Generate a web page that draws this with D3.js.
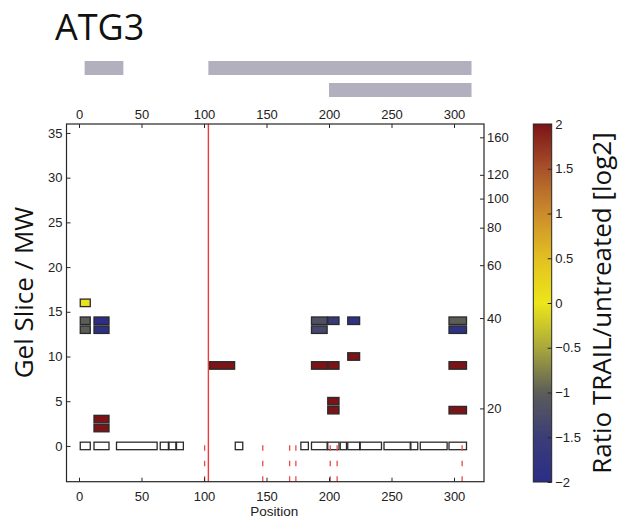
<!DOCTYPE html>
<html>
<head>
<meta charset="utf-8">
<script src="https://cdn.jsdelivr.net/npm/d3@7"></script>
<style>
  body { margin: 0; background: #fff; }
  svg text { fill: #222; }
</style>
</head>
<body>
<svg id="chart" width="619" height="523"></svg>
<script>
// ---- data ----
const proteinName = "ATG3";

// coverage bars above the map (residue ranges) and the row each sits in
const fragmentStart = [4.5, 103.5, 200];
const fragmentEnd   = [35.5, 314, 314];
const fragmentRow   = [0, 0, 1];

// cleavage site (solid line) and sites marked with dashed ticks
const cleavageSite  = 103.5;
const sitePositions = [100.5, 147, 168.5, 173.5, 201, 206.5, 306.5];

// all identified peptides, drawn as open boxes in row 0
const idStart = [1, 12, 30, 65, 72, 78, 125, 177.5, 186, 199, 209, 215, 225, 244, 265.5, 273, 296];
const idEnd   = [9, 24, 62.5, 71.5, 77.5, 83.5, 131, 183.5, 198.5, 208, 214, 224.5, 242, 265, 271, 294.5, 310];

// quantified peptides: range, gel slice and log2 ratio
const qStart = [1, 1, 12, 186, 199, 215, 296, 1, 12, 186, 296, 215, 104.5, 186, 199, 296, 199, 199, 296, 12, 12];
const qEnd   = [9, 9, 24, 198.5, 208, 224.5, 310, 9, 24, 198.5, 310, 224.5, 124.5, 198.5, 208, 310, 208, 208, 310, 24, 24];
const qSlice = [16, 14, 14, 14, 14, 14, 14, 13, 13, 13, 13, 10, 9, 9, 9, 9, 5, 4, 4, 3, 2];
const qRatio = [0.05, -1.0, -1.95, -1.2, -1.55, -1.85, -1.0, -1.0, -1.9, -1.35, -1.85, 2, 2, 2, 2, 2, 2, 2, 2, 2, 2];

// tick values
const positionTicks = [0, 50, 100, 150, 200, 250, 300];
const sliceTicks    = [0, 5, 10, 15, 20, 25, 30, 35];
const mwTicks       = [20, 40, 60, 80, 100, 120, 160];
const ratioTicks    = [-2, -1.5, -1, -0.5, 0, 0.5, 1, 1.5, 2];

// ---- drawing ----
const svg = d3.select("#chart");
const frame = { left: 66.5, right: 484, top: 124, bottom: 481.7 };
const axisColor = "#262626";
const tickFont = "'Liberation Sans', Arial, sans-serif";
const labelFont = "'Open Sans', 'Noto Sans', sans-serif";

const x  = d3.scaleLinear().domain([-10, 324]).range([frame.left, frame.right]);
const y  = d3.scaleLinear().domain([-4, 36]).range([frame.bottom, frame.top]);
const mw = d3.scaleLog().domain([11.4, 177.2]).range([frame.bottom, frame.top]);

const color = d3.scaleLinear()
  .domain([-2, -1.5, -1, -0.5, 0, 0.5, 1, 1.5, 2])
  .range(["#2a2d86", "#3b3d78", "#5c5d58", "#a9a83c", "#ece61a", "#e2c021", "#cc8c2b", "#a8522a", "#7c1317"])
  .clamp(true);

// title
svg.append("text")
  .attr("x", 55).attr("y", 40)
  .style("font-family", labelFont).style("font-size", "36px")
  .style("fill", "#111")
  .text(proteinName);

// coverage bars
const rowY = [61, 83], rowH = 14;
svg.append("g").selectAll("rect")
  .data(fragmentStart.map((s, i) => ({ s, e: fragmentEnd[i], r: fragmentRow[i] })))
  .join("rect")
  .attr("x", d => x(d.s)).attr("width", d => x(d.e) - x(d.s))
  .attr("y", d => rowY[d.r]).attr("height", rowH)
  .attr("fill", "#b2b0be");

// plot background
svg.append("rect")
  .attr("x", frame.left).attr("y", frame.top)
  .attr("width", frame.right - frame.left).attr("height", frame.bottom - frame.top)
  .attr("fill", "#fff");

const plot = svg.append("g");
const boxH = 0.84;

// identified peptides
plot.append("g").selectAll("rect")
  .data(idStart.map((s, i) => ({ s, e: idEnd[i] })))
  .join("rect")
  .attr("x", d => x(d.s)).attr("width", d => x(d.e) - x(d.s))
  .attr("y", y(boxH / 2)).attr("height", y(-boxH / 2) - y(boxH / 2))
  .attr("fill", "#fff").attr("stroke", "#2a2a2a").attr("stroke-width", 1.3);

// quantified peptides
plot.append("g").selectAll("rect")
  .data(qStart.map((s, i) => ({ s, e: qEnd[i], sl: qSlice[i], v: qRatio[i] })))
  .join("rect")
  .attr("x", d => x(d.s)).attr("width", d => x(d.e) - x(d.s))
  .attr("y", d => y(d.sl + boxH / 2)).attr("height", d => y(d.sl - boxH / 2) - y(d.sl + boxH / 2))
  .attr("fill", d => color(d.v)).attr("stroke", "#2a2a2a").attr("stroke-width", 1.3);

// dashed site markers below row 0
plot.append("g").selectAll("line")
  .data(sitePositions)
  .join("line")
  .attr("x1", d => x(d)).attr("x2", d => x(d))
  .attr("y1", y(-4)).attr("y2", y(0.4))
  .attr("stroke", "#f04848").attr("stroke-width", 1.3)
  .attr("stroke-dasharray", "5.5,10");

// cleavage site
plot.append("line")
  .attr("x1", x(cleavageSite)).attr("x2", x(cleavageSite))
  .attr("y1", frame.top).attr("y2", frame.bottom)
  .attr("stroke", "#f03a3a").attr("stroke-width", 1.4);

// frame
svg.append("rect")
  .attr("x", frame.left).attr("y", frame.top)
  .attr("width", frame.right - frame.left).attr("height", frame.bottom - frame.top)
  .attr("fill", "none").attr("stroke", axisColor).attr("stroke-width", 1.2);

function styleAxis(g) {
  g.select(".domain").remove();
  g.selectAll("line").attr("stroke", axisColor);
  g.selectAll("text").style("font-family", tickFont).style("font-size", "13px").attr("fill", "#222");
}

svg.append("g").attr("transform", `translate(0,${frame.bottom})`)
  .call(d3.axisBottom(x).tickValues(positionTicks).tickSizeInner(-4).tickSizeOuter(0).tickPadding(10))
  .call(styleAxis);

svg.append("g").attr("transform", `translate(0,${frame.top})`)
  .call(d3.axisTop(x).tickValues(positionTicks).tickSizeInner(-4).tickSizeOuter(0).tickPadding(5))
  .call(styleAxis);

svg.append("g").attr("transform", `translate(${frame.left},0)`)
  .call(d3.axisLeft(y).tickValues(sliceTicks).tickSizeInner(-4).tickSizeOuter(0).tickPadding(4))
  .call(styleAxis);

svg.append("g").attr("transform", `translate(${frame.right},0)`)
  .call(d3.axisRight(mw).tickValues(mwTicks).tickFormat(d3.format("d")).tickSizeInner(-4).tickSizeOuter(0).tickPadding(3))
  .call(styleAxis);

// axis titles
svg.append("text")
  .attr("transform", "translate(33,292.5) rotate(-90)")
  .attr("text-anchor", "middle")
  .style("font-family", labelFont).style("font-size", "26px").style("fill", "#111")
  .text("Gel Slice / MW");

svg.append("text")
  .attr("x", (frame.left + frame.right) / 2 - 1).attr("y", 516)
  .attr("text-anchor", "middle")
  .style("font-family", tickFont).style("font-size", "13.5px")
  .text("Position");

// colour bar
const cb = { left: 533.3, right: 551.7, top: 124, bottom: 482 };
const cbScale = d3.scaleLinear().domain([-2, 2]).range([cb.bottom, cb.top]);
const grad = svg.append("defs").append("linearGradient")
  .attr("id", "ratioGrad").attr("x1", 0).attr("x2", 0).attr("y1", 1).attr("y2", 0);
d3.range(0, 1.0001, 0.02).forEach(t => {
  grad.append("stop").attr("offset", t).attr("stop-color", color(-2 + 4 * t));
});
svg.append("rect")
  .attr("x", cb.left).attr("y", cb.top)
  .attr("width", cb.right - cb.left).attr("height", cb.bottom - cb.top)
  .attr("fill", "url(#ratioGrad)").attr("stroke", axisColor).attr("stroke-width", 1);

svg.append("g").attr("transform", `translate(${cb.right},0)`)
  .call(d3.axisRight(cbScale).tickValues(ratioTicks).tickFormat(d => d3.format("")(d)).tickSizeInner(-4).tickSizeOuter(0).tickPadding(3.5))
  .call(styleAxis);

svg.append("text")
  .attr("transform", `translate(611,${(cb.top + cb.bottom) / 2}) rotate(-90)`)
  .attr("text-anchor", "middle")
  .style("font-family", labelFont).style("font-size", "26px").style("fill", "#111")
  .text("Ratio TRAIL/untreated [log2]");
</script>
</body>
</html>
